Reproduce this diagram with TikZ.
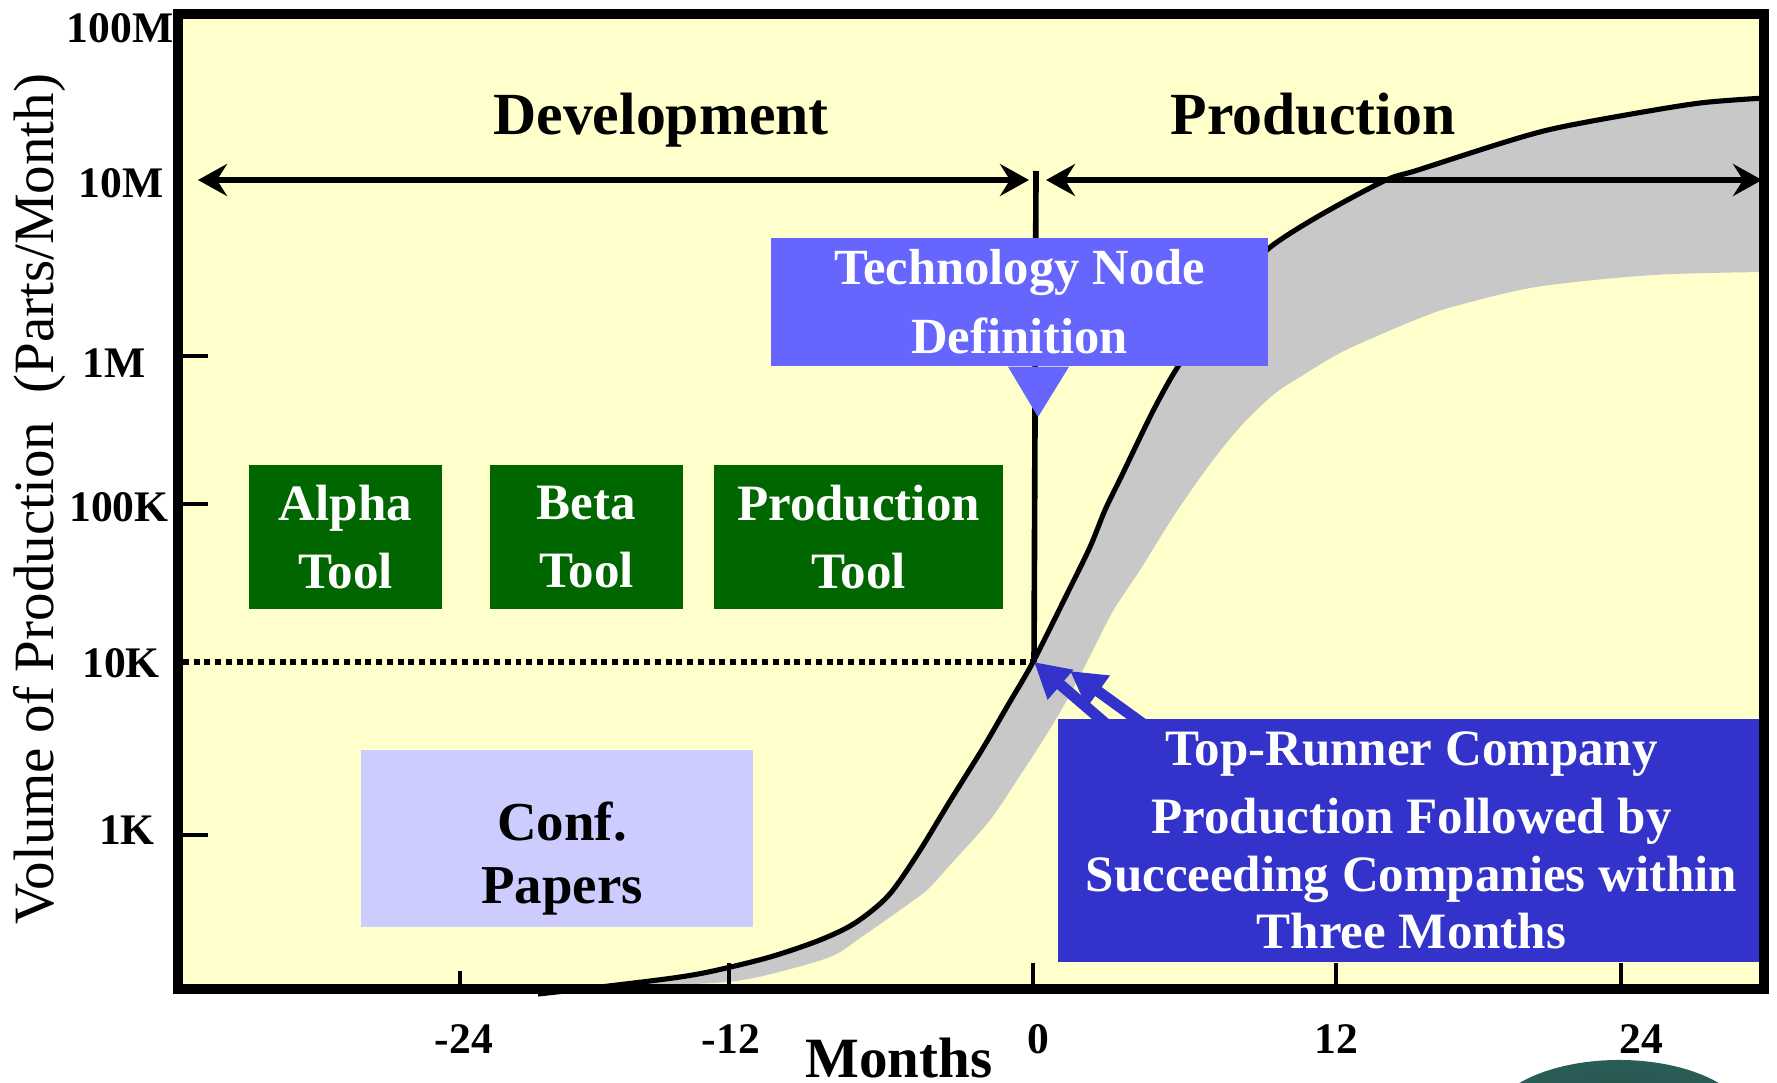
\documentclass[tikz,border=0pt]{standalone}
\usepackage{fontspec}
\setmainfont{Liberation Serif}
\usetikzlibrary{arrows.meta,calc}

\definecolor{plotbg}{RGB}{255,255,204}
\definecolor{toolgreen}{RGB}{0,102,0}
\definecolor{techblue}{RGB}{102,102,255}
\definecolor{runnerblue}{RGB}{51,51,204}
\definecolor{paperlilac}{RGB}{204,204,255}
\definecolor{bandgray}{RGB}{200,200,200}
\definecolor{blobteal}{RGB}{44,96,90}

\pgfdeclareradialshading{blobshade}{\pgfpoint{0bp}{0bp}}{%
  color(0bp)=(blobteal!80!black); color(30bp)=(blobteal); color(42bp)=(blobteal!45!white); color(50bp)=(white)}

\tikzset{
  axisframe/.style={line width=2.85pt},
  tickmark/.style={line width=1.35pt},
  ticklabel/.style={font=\bfseries\fontsize{12.4}{14}\selectfont, inner sep=0pt},
  phaselabel/.style={font=\bfseries\fontsize{17}{20}\selectfont, inner sep=0pt, anchor=base},
  spanarrow/.style={line width=1.45pt,
    {Stealth[length=0.29cm,width=0.32cm,inset=0.1cm]}-{Stealth[length=0.29cm,width=0.32cm,inset=0.1cm]}},
  growth/.style={line width=1.45pt, line join=round},
  zeroline/.style={line width=1.6pt},
  levelline/.style={line width=1.45pt, dash pattern=on 1.7pt off 1.35pt},
  boxtext/.style={font=\bfseries\fontsize{14.5}{19.4}\selectfont, text=white, align=center, inner sep=0pt},
  toolbox/.style={boxtext, fill=toolgreen, minimum width=1.93cm, minimum height=1.44cm},
  techbox/.style={boxtext, fill=techblue, minimum width=4.97cm, minimum height=1.28cm,
    font=\bfseries\fontsize{14.4}{19.63}\selectfont},
  runnerbox/.style={boxtext, fill=runnerblue, minimum width=7.07cm, minimum height=2.43cm,
    font=\bfseries\fontsize{14.5}{16.36}\selectfont},
  paperbox/.style={fill=paperlilac, minimum width=3.92cm, minimum height=1.77cm, inner sep=0pt},
  papertext/.style={font=\bfseries\fontsize{15.6}{17.9}\selectfont, align=center, inner sep=0pt},
  runarrow/.style={draw=runnerblue, line width=3.13pt,
    -{Triangle[length=0.35cm,width=0.37cm]}},
}

\begin{document}
\begin{tikzpicture}[x=0.01cm,y=-0.01cm]
\useasboundingbox (0,0) rectangle (1777,1082);

% plotting area
\fill[plotbg] (178,14) rectangle (1764,989);

% spread of production volumes among companies
\fill[bandgray] plot[smooth] coordinates {
  (538,994) (600,987) (673,978) (713,971) (770,957) (820,940) (855,923)
  (888,896) (917,855) (950,801) (983,748) (1008,705) (1033,662) (1067,594)
  (1090,547) (1105,510) (1122,475) (1153,411) (1177,368) (1210,320)
  (1240,283) (1268,249) (1317,217) (1384,181) (1418,170) (1502,143)
  (1552,129) (1620,116) (1700,103) (1765,98)}
  -- plot[smooth] coordinates {
  (1765,272) (1653,275) (1536,287) (1452,307) (1420,318) (1384,333)
  (1340,353) (1300,377) (1273,395) (1240,427) (1207,468) (1173,517)
  (1140,570) (1113,611) (1090,656) (1067,700) (1045,737) (1023,771)
  (990,820) (950,865) (927,890) (900,910) (860,938) (830,957) (767,975)
  (727,982) (673,985) (633,988) (538,994)} -- cycle;

% top-runner growth curve
\draw[growth] plot[smooth] coordinates {
  (538,994) (600,987) (673,978) (713,971) (770,957) (820,940) (855,923)
  (888,896) (917,855) (950,801) (983,748) (1008,705) (1033,662) (1067,594)
  (1090,547) (1105,510) (1122,475) (1153,411) (1177,368) (1210,320)
  (1240,283) (1268,249) (1317,217) (1384,181) (1418,170) (1502,143)
  (1552,129) (1620,116) (1700,103) (1765,98)};

% reference points
\coordinate (cross) at (1034,662);
\coordinate (cross2) at (1070,671);
\coordinate (level) at (183,662);
\coordinate (zerotop) at (1036,171);
\coordinate (devL) at (198,180);
\coordinate (devR) at (1029,180);
\coordinate (proL) at (1046,180);
\coordinate (proR) at (1762,180);

% 10K level and month zero
\draw[levelline] (level) -- (cross);
\draw[zeroline] (zerotop) -- (cross);

% phases
\draw[spanarrow] (devL) -- (devR);
\draw[spanarrow] (proL) -- (proR);
\node[phaselabel] (dev) at (661,135) {Development};
\node[phaselabel] (prod) at (1313,135) {Production};

% technology node callout
\node[techbox] (tnd) at (1019.5,302) {Technology Node\\Definition};
\coordinate (tndtip) at (1038,417);
\fill[techblue] ($(tnd.south)+(-11.5,0)$) -- (tndtip) -- ($(tnd.south)+(49.5,0)$) -- cycle;

% tools
\node[toolbox] (alpha) at (345.5,537) {Alpha\\Tool};
\node[toolbox] (beta) at (586.5,537) {Beta\\Tool};
\node[toolbox, minimum width=2.89cm] (prodtool) at (858.5,537) {Production\\Tool};

% conference papers
\node[paperbox] (conf) at (557,838.5) {};
\node[papertext] (conftext) at ($(conf.center)+(5,20)$) {Conf.\\Papers};

% top-runner company note
\node[runnerbox] (trb) at (1411.5,840.5)
  {Top-Runner Company\\[0.11cm]Production Followed by\\Succeeding Companies within\\Three Months};
\draw[runarrow] ($(trb.north west)+(54,10)$) -- (cross);
\draw[runarrow] ($(trb.north west)+(92,10)$) -- (cross2);

% ticks
\foreach \yy in {356,504,835} \draw[tickmark] (178,\yy) -- (208,\yy);
\draw[tickmark] (460,989) -- (460,971);
\foreach \xx in {729,1033,1336,1621} \draw[tickmark] (\xx,989) -- (\xx,963);

% frame
\draw[axisframe] (178,14) rectangle (1764,989);

% vertical axis labels
\node[ticklabel] (y100M) at (120,28) {100M};
\node[ticklabel] (y10M) at (121,183) {10M};
\node[ticklabel] (y1M) at (114,363) {1M};
\node[ticklabel] (y100K) at (119,507) {100K};
\node[ticklabel] (y10K) at (121,663) {10K};
\node[ticklabel] (y1K) at (127,830) {1K};
\node[font=\fontsize{16.2}{19}\selectfont, inner sep=0pt, rotate=90, anchor=base]
  (ytitle) at (53,499) {Volume of Production\ \ (Parts/Month)};

% horizontal axis labels
\node[ticklabel] (xm24) at (464,1039) {-24};
\node[ticklabel] (xm12) at (731,1039) {-12};
\node[ticklabel] (x0) at (1038,1039) {0};
\node[ticklabel] (x12) at (1336,1039) {12};
\node[ticklabel] (x24) at (1641,1039) {24};
\node[font=\bfseries\fontsize{16.2}{19}\selectfont, inner sep=0pt, anchor=base]
  (months) at (899,1077) {Months};

% rounded shape peeking in at the lower edge
\begin{scope}
  \clip (0,0) rectangle (1777,1082);
  \shade[shading=blobshade] (1619,1128) ellipse [x radius=1.33cm, y radius=0.68cm];
\end{scope}
\end{tikzpicture}
\end{document}
